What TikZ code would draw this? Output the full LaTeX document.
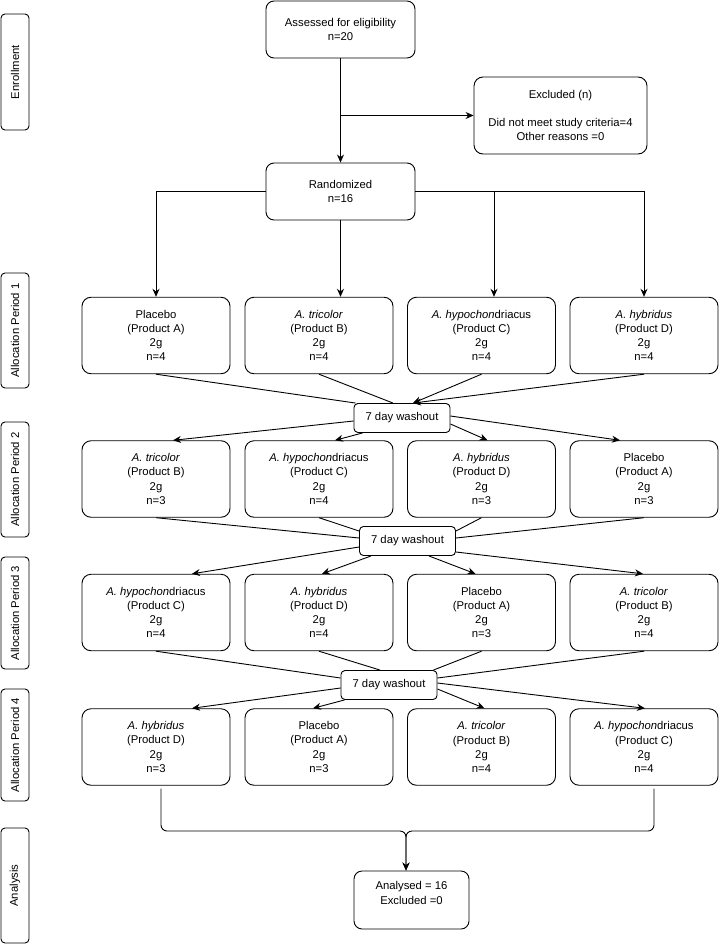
\documentclass[tikz,border=0pt]{standalone}
\usepackage{fontspec}
\setmainfont{Liberation Sans}
\usetikzlibrary{arrows.meta,calc,positioning}

% testo dei bracci
\newcommand{\prodA}[1]{Placebo\\(Product A)\\2g\\n=#1}
\newcommand{\prodB}[1]{\textit{A. tricolor}\\(Product B)\\2g\\n=#1}
\newcommand{\prodC}[1]{\textit{A. hypochon}driacus\\(Product C)\\2g\\n=#1}
\newcommand{\prodD}[1]{\textit{A. hybridus}\\(Product D)\\2g\\n=#1}

\begin{document}
\begin{tikzpicture}[x=1pt,y=-1pt,line width=0.9pt,
  txt/.style={font=\fontsize{11.3}{14.2}\selectfont},
  rbox/.style={txt,draw,rounded corners=9pt,align=center,inner sep=2pt},
  arm/.style={rbox,minimum width=148pt,minimum height=76.5pt},
  phase/.style={txt,draw,rounded corners=4pt,rotate=90,minimum width=115pt,minimum height=28pt,inner sep=1pt},
  wash/.style={txt,draw,rounded corners=4pt,minimum width=96pt,minimum height=29pt,inner sep=1pt},
  flow/.style={-{Stealth[length=8pt,width=7pt]}}]
\useasboundingbox (0,0) rectangle (719,944);
% fasce laterali
\node[phase,minimum width=116pt] (lenr) at (15,72) {Enrollment};
\node[phase] (lp1) at (15,330.5) {Allocation Period 1};
\node[phase] (lp2) at (15,479.5) {Allocation Period 2};
\node[phase,minimum width=112pt] (lp3) at (15,613) {Allocation Period 3};
\node[phase,minimum width=112pt] (lp4) at (15,745) {Allocation Period 4};
\node[phase] (lana) at (15,885.5) {Analysis};
% arruolamento
\node[rbox,minimum width=149pt,minimum height=57pt,rounded corners=8pt] (ass) at (340.5,29.5) {Assessed for eligibility\\n=20};
\node[rbox,minimum width=173pt,minimum height=77pt] (exc) at (560.5,115.5) {Excluded (n)\\[14pt]Did not meet study criteria=4\\Other reasons =0};
\node[rbox,minimum width=149pt,minimum height=57pt,rounded corners=8pt] (rand) at (340.5,191.5) {Randomized\\n=16};
\draw[flow] (ass) -- (rand);
\coordinate (br) at (ass.south |- exc.west);
\draw[flow] (br) -- (exc.west);
% periodi
\foreach \c/\x/\p/\n in {a/156/\prodA/4, b/319/\prodB/4, c/481.5/\prodC/4, d/644/\prodD/4}
  \node[arm] (p1\c) at (\x,335.5) {\p{\n}};
\foreach \c/\x/\p/\n in {a/156/\prodB/3, b/319/\prodC/4, c/481.5/\prodD/3, d/644/\prodA/3}
  \node[arm] (p2\c) at (\x,479) {\p{\n}};
\foreach \c/\x/\p/\n in {a/156/\prodC/4, b/319/\prodD/4, c/481.5/\prodA/3, d/644/\prodB/4}
  \node[arm] (p3\c) at (\x,612.5) {\p{\n}};
\foreach \c/\x/\p/\n in {a/156/\prodD/3, b/319/\prodA/3, c/481.5/\prodB/4, d/644/\prodC/4}
  \node[arm] (p4\c) at (\x,747) {\p{\n}};
% randomizzazione
\draw[flow] (rand.west) -| (p1a.north);
\draw[flow] (rand) -- (rand.south |- p1b.north);
\draw[flow] (rand.east) -| ([xshift=12.5pt]p1c.north);
\draw[flow] (rand.east) -| (p1d.north);
% washout
\node[wash] (w1) at (402,418) {7 day washout};
\node[wash] (w2) at (407.5,541) {7 day washout};
\node[wash] (w3) at (389,685) {7 day washout};
\draw (p1a.south) -- ([xshift=2pt]w1.north west);
\draw (p1b.south) -- ([xshift=-9pt]w1.north);
\draw[flow] (p1c.south) -- ([xshift=11pt]w1.north);
\draw[flow] (p1d.south) -- ([xshift=11pt]w1.north);
\draw[flow] ([yshift=-3pt]w1.west) -- ([xshift=17pt]p2a.north);
\draw[flow] ([xshift=9pt]w1.south west) -- ([xshift=16pt]p2b.north);
\draw[flow] ([yshift=-6pt]w1.east) -- ([xshift=6pt]p2c.north);
\draw[flow] ([yshift=2pt]w1.east) -- ([xshift=-24pt]p2d.north);
\draw (p2a.south) -- ([yshift=3pt]w2.west);
\draw (p2b.south) -- ([yshift=10pt]w2.west);
\draw (p2c.south) -- ([yshift=10pt]w2.east);
\draw (p2d.south) -- ([yshift=3pt]w2.east);
\draw[flow] ([yshift=-6pt]w2.west) -- ([xshift=36pt]p3a.north);
\draw[flow] ([xshift=12pt]w2.south west) -- ([xshift=3pt]p3b.north);
\draw[flow] ([xshift=-27pt]w2.south east) -- ([xshift=-6pt]p3c.north);
\draw[flow] ([yshift=-11pt]w2.east) -- ([xshift=-1pt]p3d.north);
\draw (p3a.south) -- ([yshift=7pt]w3.west);
\draw (p3b.south) -- ([xshift=-9pt]w3.north);
\draw (p3c.south) -- ([xshift=-4pt]w3.north east);
\draw (p3d.south) -- ([yshift=7pt]w3.east);
\draw[flow] ([yshift=-3pt]w3.west) -- ([xshift=36pt]p4a.north);
\draw[flow] ([xshift=4pt]w3.south west) -- ([xshift=-6pt]p4b.north);
\draw[flow] ([yshift=-4pt]w3.east) -- ([xshift=3pt]p4c.north);
\draw[flow] ([yshift=2pt]w3.east) -- ([xshift=1pt]p4d.north);
% analisi
\node[rbox,minimum width=115pt,minimum height=58pt,rounded corners=8pt] (ana) at (411.5,900) {Analysed = 16\\Excluded =0\\\mbox{}};
\coordinate (mg) at (406,831);
\draw[flow,rounded corners=6pt] ([xshift=5pt,yshift=-3pt]p4a.south) |- (mg) -- ([xshift=-5.5pt]ana.north);
\draw[flow,rounded corners=6pt] ([xshift=10pt,yshift=-3pt]p4d.south) |- (mg) -- ([xshift=-5.5pt]ana.north);
\end{tikzpicture}
\end{document}
